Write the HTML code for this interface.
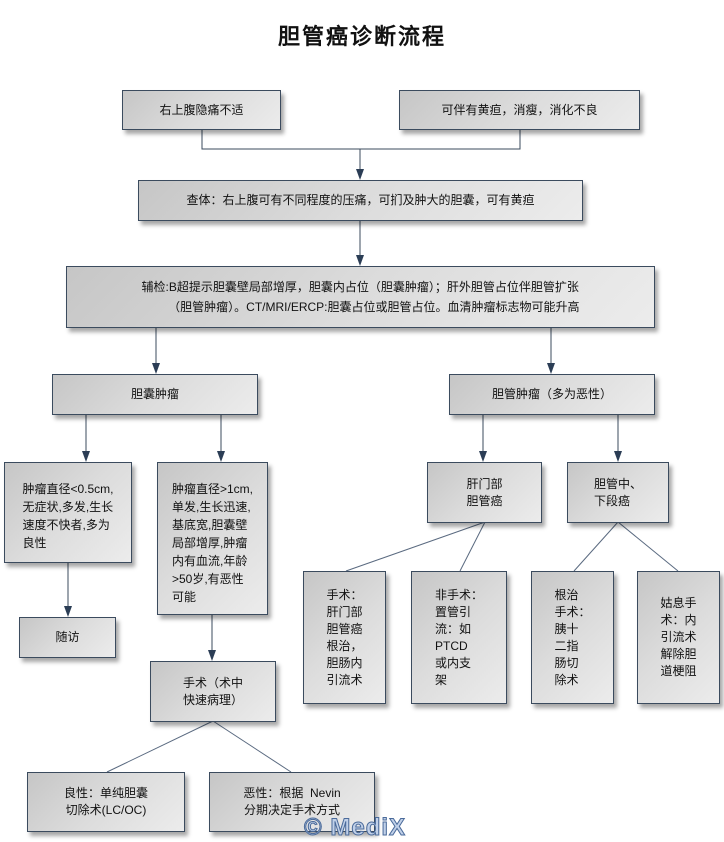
<!DOCTYPE html>
<html><head><meta charset="utf-8"><style>
html,body{margin:0;padding:0;background:#fff;}
body{width:724px;height:840px;position:relative;overflow:hidden;font-family:"Liberation Sans","Noto Sans CJK SC",sans-serif;color:#111;}
.b{position:absolute;box-sizing:border-box;border:1px solid #3b4b5e;background:linear-gradient(135deg,#c6c6c6 0%,#dcdcdc 50%,#ececec 100%);box-shadow:3px 4px 4px rgba(0,0,0,0.35);display:flex;align-items:center;justify-content:center;font-size:12px;line-height:17px;}
.b .t{text-align:left;}
.title{position:absolute;left:0;width:724px;top:19px;text-align:center;font-size:22px;font-weight:bold;letter-spacing:2px;font-family:"Liberation Sans","WenQuanYi Zen Hei",sans-serif;}
svg{position:absolute;left:0;top:0;}
.wm{position:absolute;left:304px;top:814px;font-size:24px;font-weight:bold;color:#c0d0e8;-webkit-text-stroke:1px #4a6a9a;letter-spacing:1px;}
</style></head><body>
<div class="title">胆管癌诊断流程</div>
<svg width="724" height="840">
<g stroke="#3b4b5e" stroke-width="1" fill="none">
<polyline points="202,129 202,149 520,149 520,129"/>
<line x1="360" y1="149" x2="360" y2="172"/>
<line x1="360" y1="220" x2="360" y2="258"/>
<line x1="156" y1="327" x2="156" y2="366"/>
<line x1="551" y1="327" x2="551" y2="366"/>
<line x1="86" y1="414" x2="86" y2="454"/>
<line x1="221" y1="414" x2="221" y2="454"/>
<line x1="483" y1="414" x2="483" y2="454"/>
<line x1="618" y1="414" x2="618" y2="454"/>
<line x1="68" y1="562" x2="68" y2="609"/>
<line x1="212" y1="614" x2="212" y2="653"/>
<line x1="213" y1="721" x2="107" y2="772" stroke="#5a6a80"/>
<line x1="213" y1="721" x2="291" y2="772" stroke="#5a6a80"/>
<line x1="485" y1="522" x2="346" y2="571" stroke="#5a6a80"/>
<line x1="485" y1="522" x2="460" y2="571" stroke="#5a6a80"/>
<line x1="618" y1="522" x2="574" y2="571" stroke="#5a6a80"/>
<line x1="618" y1="522" x2="678" y2="571" stroke="#5a6a80"/>
</g>
<g fill="#2b3d55">
<polygon points="356,169 364,169 360,180"/>
<polygon points="356,255 364,255 360,266"/>
<polygon points="152,363 160,363 156,374"/>
<polygon points="547,363 555,363 551,374"/>
<polygon points="82,451 90,451 86,462"/>
<polygon points="217,451 225,451 221,462"/>
<polygon points="479,451 487,451 483,462"/>
<polygon points="614,451 622,451 618,462"/>
<polygon points="64,606 72,606 68,617"/>
<polygon points="208,650 216,650 212,661"/>
</g></svg>
<div class="b" style="left:122px;top:90px;width:159px;height:40px">右上腹隐痛不适</div>
<div class="b" style="left:399px;top:90px;width:241px;height:40px">可伴有黄疸，消瘦，消化不良</div>
<div class="b" style="left:138px;top:180px;width:445px;height:41px">查体：右上腹可有不同程度的压痛，可扪及肿大的胆囊，可有黄疸</div>
<div class="b" style="left:66px;top:266px;width:589px;height:62px"><div class="t" style="font-size:12px;line-height:20px">辅检:B超提示胆囊壁局部增厚，胆囊内占位（胆囊肿瘤）；肝外胆管占位伴胆管扩张<br>&nbsp;&nbsp;&nbsp;&nbsp;&nbsp;&nbsp;&nbsp;&nbsp;（胆管肿瘤）。CT/MRI/ERCP:胆囊占位或胆管占位。血清肿瘤标志物可能升高</div></div>
<div class="b" style="left:52px;top:374px;width:206px;height:41px">胆囊肿瘤</div>
<div class="b" style="left:449px;top:374px;width:206px;height:41px">胆管肿瘤（多为恶性）</div>
<div class="b" style="left:4px;top:462px;width:128px;height:101px;align-items:flex-start;padding-top:17px"><div class="t" style="line-height:18px">肿瘤直径&lt;0.5cm,<br>无症状,多发,生长<br>速度不快者,多为<br>良性</div></div>
<div class="b" style="left:157px;top:462px;width:111px;height:153px;align-items:flex-start;padding-top:17px"><div class="t" style="line-height:18px">肿瘤直径&gt;1cm,<br>单发,生长迅速,<br>基底宽,胆囊壁<br>局部增厚,肿瘤<br>内有血流,年龄<br>&gt;50岁,有恶性<br>可能</div></div>
<div class="b" style="left:19px;top:617px;width:97px;height:41px">随访</div>
<div class="b" style="left:150px;top:661px;width:126px;height:61px"><div class="t">手术（术中<br>快速病理）</div></div>
<div class="b" style="left:27px;top:772px;width:158px;height:60px"><div style="text-align:center">良性：单纯胆囊<br>切除术(LC/OC)</div></div>
<div class="b" style="left:209px;top:772px;width:166px;height:60px"><div style="text-align:center">恶性：根据&nbsp; Nevin<br>分期决定手术方式</div></div>
<div class="b" style="left:427px;top:462px;width:115px;height:61px"><div class="t">肝门部<br>胆管癌</div></div>
<div class="b" style="left:567px;top:462px;width:102px;height:61px"><div class="t">胆管中、<br>下段癌</div></div>
<div class="b" style="left:303px;top:571px;width:83px;height:133px"><div class="t">手术：<br>肝门部<br>胆管癌<br>根治，<br>胆肠内<br>引流术</div></div>
<div class="b" style="left:411px;top:571px;width:96px;height:133px"><div class="t">非手术：<br>置管引<br>流：如<br>PTCD<br>或内支<br>架</div></div>
<div class="b" style="left:531px;top:571px;width:83px;height:133px"><div class="t">根治<br>手术：<br>胰十<br>二指<br>肠切<br>除术</div></div>
<div class="b" style="left:637px;top:571px;width:83px;height:133px"><div class="t">姑息手<br>术：内<br>引流术<br>解除胆<br>道梗阻</div></div>
<div class="wm">© MediX</div>
</body></html>
